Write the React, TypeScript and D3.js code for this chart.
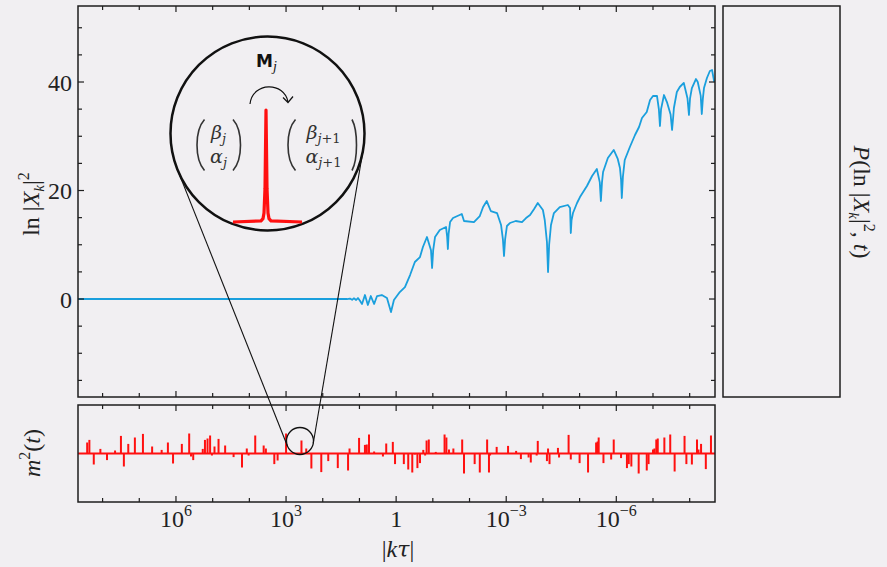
import React from "react";
import * as d3 from "d3";

// ---- data: main curve ln|X_k|^2 vs log10|k tau| ----
const logK = [
  8.67, 1.34, 1.26, 1.2, 1.15, 1.09, 1.04, 0.99, 0.93, 0.85, 0.77, 0.69, 0.6, 0.52, 0.39, 0.25, 0.14, 0.06,
  -0.1, -0.24, -0.38, -0.51, -0.65, -0.73, -0.84, -0.95, -0.98, -1.01, -1.06, -1.19, -1.36, -1.39, -1.41, -1.43,
  -1.47, -1.55, -1.79, -1.85, -2.12, -2.28, -2.37, -2.47, -2.58, -2.75, -2.86, -2.91, -2.94, -2.97, -3.02, -3.1,
  -3.26, -3.43, -3.54, -3.65, -3.76, -3.86, -4.0, -4.05, -4.11, -4.14, -4.17, -4.22, -4.3, -4.46, -4.68, -4.74,
  -4.76, -4.78, -4.82, -4.93, -5.01, -5.2, -5.34, -5.47, -5.55, -5.58, -5.61, -5.64, -5.77, -5.93, -6.04, -6.1,
  -6.13, -6.15, -6.18, -6.23, -6.37, -6.51, -6.62, -6.7, -6.83, -6.92, -7.0, -7.11, -7.16, -7.19, -7.22, -7.3,
  -7.38, -7.48, -7.52, -7.55, -7.57, -7.65, -7.73, -7.84, -7.94, -7.98, -8.01, -8.06, -8.17, -8.22, -8.3, -8.33,
  -8.36, -8.39, -8.47, -8.55, -8.61, -8.67,
];
const lnX = [
  0, 0, 0.09, -0.15, 0.13, -0.18, 0.18, -0.28, -0.92, 0.74, -1.1, 0.55, -0.92, 0.55, 0.74, 0.18, -2.4, -0.18,
  1.29, 2.21, 4.42, 6.82, 7.74, 9.59, 11.43, 9.0, 5.71, 9.0, 11.43, 12.72, 13.27, 11.5, 9.22, 12.0,
  14.19, 14.93, 15.67, 14.38, 14.19, 15.3, 16.96, 18.06, 16.22, 15.85, 13.64, 11.0, 7.93, 11.0, 13.46, 14.01,
  14.38, 14.19, 14.93, 15.48, 16.59, 17.7, 16.41, 14.56, 10.5, 4.98, 10.0, 13.64, 15.85, 16.96, 17.33, 16.77,
  12.17, 14.5, 15.85, 17.7, 18.8, 20.83, 22.67, 23.96, 21.5, 18.06, 21.5, 23.41, 25.99, 27.47, 25.81, 24.15,
  22.0, 18.62, 22.5, 25.62, 28.02, 30.23, 31.71, 33.36, 34.47, 36.68, 37.42, 37.42, 35.0, 31.89, 35.0, 37.6,
  36.31, 34.0, 31.15, 33.5, 35.21, 38.16, 39.08, 39.82, 37.0, 33.92, 37.0, 38.89, 40.55, 40.0, 37.5, 34.1,
  37.0, 38.89, 40.74, 42.03, 42.21, 40.0,
];

// ---- data: lower panel m^2(t) spikes ----
const spikeLogK = [
  8.42, 8.36, 8.24, 8.06, 7.88, 7.66, 7.5, 7.42, 7.3, 7.12, 6.9, 6.65, 6.39, 6.22, 6.08, 5.84, 5.64, 5.59, 5.53,
  5.27, 5.21, 5.14, 5.07, 5.02, 4.95, 4.84, 4.66, 4.43, 4.2, 4.07, 4.02, 3.84, 3.61, 3.55, 3.32, 3.23, 3.0,
  2.58, 2.45, 2.31, 2.04, 1.85, 1.59, 1.31, 1.27, 1.01, 0.85, 0.8, 0.74, 0.6, 0.36, 0.27, 0.09, 0.03,
  -0.21, -0.33, -0.44, -0.51, -0.58, -0.65, -0.74, -0.79, -0.83, -0.89, -1.08, -1.32, -1.37, -1.44, -1.56,
  -1.8, -1.85, -2.14, -2.28, -2.48, -2.53, -2.56, -2.74, -3.05, -3.27, -3.4, -3.61, -3.67, -3.83, -3.86,
  -4.11, -4.14, -4.18, -4.41, -4.44, -4.7, -4.76, -5.0, -5.23, -5.45, -5.49, -5.52, -5.65, -5.86, -5.93,
  -6.13, -6.29, -6.34, -6.41, -6.61, -6.83, -6.88, -7.0, -7.04, -7.09, -7.13, -7.31, -7.47, -7.59, -7.86,
  -7.91, -8.06, -8.2, -8.24, -8.31, -8.44, -8.58,
];
const spikeVal = [
  0.55, 0.68, -0.55, 0.23, -0.33, 0.15, 0.88, -0.65, 0.48, 0.8, 0.98, 0.35, 0.18, 0.55, -0.5, 0.48, 1.0, -0.15, -0.33,
  0.23, 0.68, 0.75, 0.9, -0.1, 0.35, 0.73, 0.4, -0.18, -0.7, 0.25, -0.1, 0.9, 0.4, 0.25, -0.53, -0.35, 1.0,
  0.65, 0.25, -0.75, -0.93, -0.38, -0.73, -0.85, 0.25, 0.78, 0.43, 0.45, 0.95, 0.1, -0.15, 0.5, 0.58, -0.53,
  -0.53, -0.8, -0.95, -0.05, -0.73, -0.48, 0.18, -0.1, 0.65, 0.7, 0.08, 0.95, 0.8, 0.2, 0.25,
  0.7, -1.0, -0.53, -0.95, 0.7, -0.95, -0.1, 0.33, 0.38, 0.13, -0.28, -0.2, -0.45, -0.1, 0.63,
  -0.38, 0.25, -0.53, 0.28, -0.2, 0.93, -0.3, -0.48, -0.95, 0.55, 0.6, 0.8, -0.48, -0.3, 0.7,
  -0.23, -0.73, -0.53, -0.65, -1.0, -0.85, -0.53, 0.2, 0.25, 0.7, 0.75, 0.8, 0.95, -0.9, 0.88,
  -0.53, -0.55, 0.7, 0.2, 0.48, -0.78, 0.9,
];

// ---- ticks ----
const xTickDecades = [8, 7, 6, 5, 4, 3, 2, 1, 0, -1, -2, -3, -4, -5, -6, -7, -8];
const xLabelExps = [6, 3, 0, -3, -6];
const yTicksMinor = [-15, -10, -5, 0, 5, 10, 15, 20, 25, 30, 35, 40, 45, 50];
const yLabels = [0, 20, 40];

// inset illustration: lorentzian spike (offset from peak, height fraction)
const insetPeakDx = [-33, -5, -3, -2, -1, 0, 1, 2, 3, 5, 36];
const insetPeakH = [0, 0.01, 0.03, 0.08, 0.3, 1, 0.3, 0.08, 0.03, 0.01, 0];

const FONT = "'Liberation Serif','Times New Roman',serif";
const GREEK = "'DejaVu Serif','Liberation Serif',serif";
const INK = "#1e1e1e";
const BLUE = "#1a9fdd";
const RED = "#ff1010";

export default function App() {
  const W = 887, H = 567;
  const main = { l: 78, r: 715, t: 6, b: 397 };
  const side = { l: 723, r: 840, t: 6, b: 397 };
  const bot = { l: 78, r: 715, t: 405, b: 502 };

  const x = d3.scaleLog().domain([10 ** 8.67, 10 ** -8.69]).range([main.l, main.r]);
  const y = d3.scaleLinear().domain([-18.06, 54.01]).range([main.b, main.t]);
  const ym = d3.scaleLinear().domain([-2.425, 2.425]).range([bot.b, bot.t]);

  const blueLine = d3
    .line<number>()
    .x((_, i) => x(10 ** logK[i]))
    .y((d) => y(d));
  const bluePath = blueLine(lnX) || "";

  const y0 = ym(0);

  // inset geometry
  const C1 = { x: 267.5, y: 133.5, r: 97 };
  const C2 = { x: x(10 ** 2.58) - 1.5, y: 441, r: 13.5 };
  const dx = C2.x - C1.x, dy = C2.y - C1.y;
  const D = Math.hypot(dx, dy);
  const th = Math.atan2(dy, dx);
  const al = Math.acos((C1.r - C2.r) / D);
  const tangents = [th + al, th - al].map((p) => ({
    x1: C1.x + C1.r * Math.cos(p),
    y1: C1.y + C1.r * Math.sin(p),
    x2: C2.x + C2.r * Math.cos(p),
    y2: C2.y + C2.r * Math.sin(p),
  }));

  const peakX = C1.x - 1.5;
  const peakBase = C1.y + 88.5;
  const peakTop = C1.y - 23.5;
  const peakLine = d3
    .line<number>()
    .x((_, i) => peakX + insetPeakDx[i])
    .y((d) => peakBase - d * (peakBase - peakTop));
  const peakPath = peakLine(insetPeakH) || "";

  const paren = (x0: number, x1: number, yTop: number, yBot: number) => {
    const h = yBot - yTop;
    return `M${x1},${yTop} C${x0},${yTop + h * 0.22} ${x0},${yBot - h * 0.22} ${x1},${yBot}`;
  };

  const tickX = (px: number, yy: number, dir: number, len: number, key: string) => (
    <line key={key} x1={px} x2={px} y1={yy} y2={yy + dir * len} stroke={INK} strokeWidth={1.2} />
  );

  return (
    <svg
      width={W}
      height={H}
      style={{ position: "absolute", left: 0, top: 0 }}
      fontFamily={FONT}
    >
      <rect x={0} y={0} width={W} height={H} fill="#f1eff2" />
      <defs>
        <clipPath id="mainClip">
          <rect x={main.l} y={main.t} width={main.r - main.l} height={main.b - main.t} />
        </clipPath>
        <clipPath id="botClip">
          <rect x={bot.l} y={bot.t} width={bot.r - bot.l} height={bot.b - bot.t} />
        </clipPath>
      </defs>

      {/* main curve */}
      <path d={bluePath} fill="none" stroke={BLUE} strokeWidth={1.8} strokeLinejoin="round" clipPath="url(#mainClip)" />

      {/* lower panel spikes */}
      <g clipPath="url(#botClip)">
        {spikeLogK.map((k, i) => (
          <line key={i} x1={x(10 ** k)} x2={x(10 ** k)} y1={y0} y2={ym(spikeVal[i])} stroke={RED} strokeWidth={2} />
        ))}
        <line x1={bot.l} x2={bot.r} y1={y0} y2={y0} stroke={RED} strokeWidth={2} />
      </g>

      {/* frames */}
      <rect x={main.l} y={main.t} width={main.r - main.l} height={main.b - main.t} fill="none" stroke={INK} strokeWidth={1.5} />
      <rect x={side.l} y={side.t} width={side.r - side.l} height={side.b - side.t} fill="none" stroke={INK} strokeWidth={1.5} />
      <rect x={bot.l} y={bot.t} width={bot.r - bot.l} height={bot.b - bot.t} fill="none" stroke={INK} strokeWidth={1.5} />

      {/* x ticks */}
      {xTickDecades.map((e) => {
        const px = x(10 ** e);
        const len = e % 3 === 0 ? 6 : 4;
        return (
          <g key={"xt" + e}>
            {tickX(px, main.b, -1, len, "a")}
            {tickX(px, main.t, 1, len, "b")}
            {tickX(px, bot.b, -1, len, "c")}
            {tickX(px, bot.t, 1, len, "d")}
          </g>
        );
      })}
      {/* y ticks */}
      {yTicksMinor.map((v) => {
        const py = y(v);
        const len = v % 20 === 0 ? 6 : 4;
        return (
          <g key={"yt" + v}>
            <line x1={main.l} x2={main.l + len} y1={py} y2={py} stroke={INK} strokeWidth={1.2} />
            <line x1={main.r} x2={main.r - len} y1={py} y2={py} stroke={INK} strokeWidth={1.2} />
          </g>
        );
      })}

      {/* tick labels */}
      <g fontSize={24} fill="#222">
        {yLabels.map((v) => (
          <text key={"yl" + v} x={72} y={y(v) + 8.5} textAnchor="end">
            {v}
          </text>
        ))}
        {xLabelExps.map((e) => {
          const px = x(10 ** e);
          if (e === 0)
            return (
              <text key="xl0" x={px} y={527} textAnchor="middle">
                1
              </text>
            );
          const sup = e < 0 ? `\u2212${-e}` : `${e}`;
          return (
            <text key={"xl" + e} x={px} y={527} textAnchor="middle">
              10
              <tspan dy={-11} fontSize={16}>
                {sup}
              </tspan>
            </text>
          );
        })}
      </g>

      {/* axis labels */}
      <g fontSize={24} fill="#222">
        <text x={398} y={557} textAnchor="middle">
          |<tspan fontStyle="italic">k</tspan>
          <tspan fontStyle="italic" fontFamily={GREEK} fontSize={22}>τ</tspan>|
        </text>
        <text transform="translate(39,204) rotate(-90)" textAnchor="middle">
          ln |<tspan fontStyle="italic">X</tspan>
          <tspan fontStyle="italic" fontSize={15} dy={5}>k</tspan>
          <tspan dy={-5}>|</tspan>
          <tspan fontSize={16} dy={-10}>2</tspan>
        </text>
        <text transform="translate(40,453) rotate(-90)" textAnchor="middle">
          <tspan fontStyle="italic">m</tspan>
          <tspan fontSize={16} dy={-10}>2</tspan>
          <tspan dy={10}>(</tspan>
          <tspan fontStyle="italic">t</tspan>)
        </text>
        <text transform="translate(854,202) rotate(90)" textAnchor="middle">
          <tspan fontStyle="italic">P</tspan>(ln |<tspan fontStyle="italic">X</tspan>
          <tspan fontStyle="italic" fontSize={15} dy={5}>k</tspan>
          <tspan dy={-5}>|</tspan>
          <tspan fontSize={16} dy={-10}>2</tspan>
          <tspan dy={10}>, </tspan>
          <tspan fontStyle="italic">t</tspan>)
        </text>
      </g>

      {/* inset: zoom lines */}
      {tangents.map((t, i) => (
        <line key={"tg" + i} x1={t.x1} y1={t.y1} x2={t.x2} y2={t.y2} stroke="#111" strokeWidth={1.1} />
      ))}
      <circle cx={C2.x} cy={C2.y} r={C2.r} fill="none" stroke="#111" strokeWidth={1.3} />
      <circle cx={C1.x} cy={C1.y} r={C1.r} fill="#f1eff2" stroke="#111" strokeWidth={2.5} />

      {/* inset content */}
      <path d={peakPath} fill="none" stroke={RED} strokeWidth={3.2} strokeLinejoin="round" />
      <text x={C1.x - 11.5} y={C1.y - 66.5} fontFamily="'DejaVu Sans',sans-serif" fontWeight="bold" fontSize={17} fill="#111">
        M<tspan fontFamily={FONT} fontWeight="normal" fontStyle="italic" fontSize={14} dy={4}>j</tspan>
      </text>
      <path
        d={`M${C1.x - 17.5},${C1.y - 29.5} C${C1.x - 15},${C1.y - 52} ${C1.x + 17},${C1.y - 52} ${C1.x + 20.5},${C1.y - 31.5}`}
        fill="none"
        stroke="#111"
        strokeWidth={1.2}
      />
      <path
        d={`M${C1.x + 15.5},${C1.y - 36} L${C1.x + 20.5},${C1.y - 31} L${C1.x + 25.5},${C1.y - 37}`}
        fill="none"
        stroke="#111"
        strokeWidth={1.2}
      />
      <g stroke="#333" strokeWidth={1.6} fill="none">
        <path d={paren(C1.x - 73, C1.x - 63, C1.y - 14, C1.y + 37)} />
        <path d={paren(C1.x - 24.5, C1.x - 34.5, C1.y - 14, C1.y + 37)} />
        <path d={paren(C1.x + 18, C1.x + 28, C1.y - 14, C1.y + 37)} />
        <path d={paren(C1.x + 90.5, C1.x + 84.5, C1.y - 14, C1.y + 37)} />
      </g>
      <g fontSize={19} fill="#333" fontFamily={GREEK}>
        <text x={C1.x - 49} y={C1.y + 5} textAnchor="middle">
          <tspan fontStyle="italic">β</tspan>
          <tspan fontStyle="italic" fontSize={13} dy={4}>j</tspan>
        </text>
        <text x={C1.x - 49} y={C1.y + 29} textAnchor="middle">
          <tspan fontStyle="italic">α</tspan>
          <tspan fontStyle="italic" fontSize={13} dy={4}>j</tspan>
        </text>
        <text x={C1.x + 56} y={C1.y + 5} textAnchor="middle">
          <tspan fontStyle="italic">β</tspan>
          <tspan fontSize={13} dy={4}>
            <tspan fontStyle="italic">j</tspan>+1
          </tspan>
        </text>
        <text x={C1.x + 56} y={C1.y + 29} textAnchor="middle">
          <tspan fontStyle="italic">α</tspan>
          <tspan fontSize={13} dy={4}>
            <tspan fontStyle="italic">j</tspan>+1
          </tspan>
        </text>
      </g>
    </svg>
  );
}
